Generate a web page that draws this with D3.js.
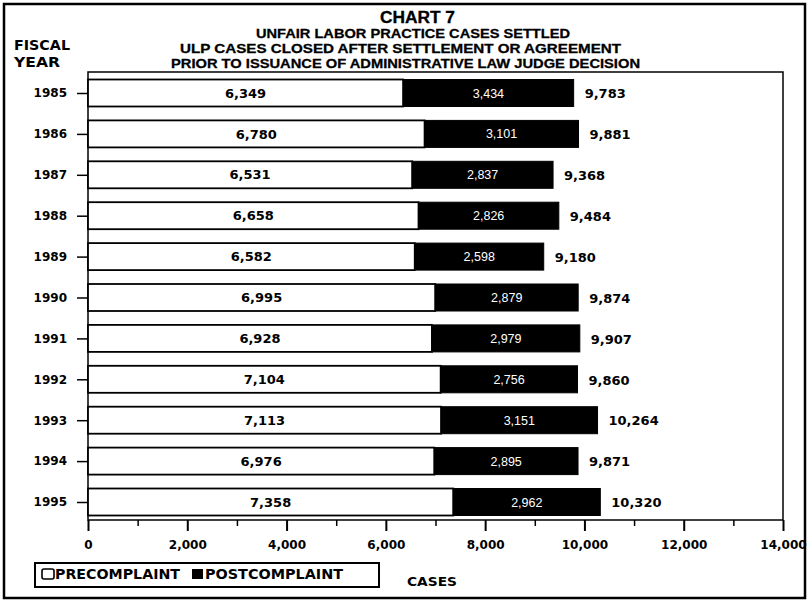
<!DOCTYPE html>
<html>
<head>
<meta charset="utf-8">
<script src="https://cdn.jsdelivr.net/npm/d3@7"></script>
<style>
  html, body { margin: 0; padding: 0; background: #fff; }
  svg { display: block; }
  .bold { font-family: "DejaVu Sans", sans-serif; font-weight: bold; fill: #000; }
  .title { font-family: "Liberation Sans", Arial, sans-serif; font-weight: bold; fill: #000; stroke: #000; stroke-width: 0.3px; }
  .postval { font-family: "Liberation Sans", Arial, sans-serif; font-size: 12.5px; fill: #fff; }
</style>
</head>
<body>
<svg id="chart" width="809" height="602"></svg>
<script>
// Fiscal years and case counts (ULP cases settled before an ALJ decision)
const years = ["1985", "1986", "1987", "1988", "1989", "1990", "1991", "1992", "1993", "1994", "1995"];
const precomplaint = [6349, 6780, 6531, 6658, 6582, 6995, 6928, 7104, 7113, 6976, 7358];
const postcomplaint = [3434, 3101, 2837, 2826, 2598, 2879, 2979, 2756, 3151, 2895, 2962];
const majorTicks = [0, 2000, 4000, 6000, 8000, 10000, 12000, 14000];
const minorTicks = [1000, 3000, 5000, 7000, 9000, 11000, 13000];
const titleLines = [
  "CHART 7",
  "UNFAIR LABOR PRACTICE CASES SETTLED",
  "ULP CASES CLOSED AFTER SETTLEMENT OR AGREEMENT",
  "PRIOR TO ISSUANCE OF ADMINISTRATIVE LAW JUDGE  DECISION"
];
const legendLabels = ["PRECOMPLAINT", "POSTCOMPLAINT"];

const rows = years.map((y, i) => ({
  year: y,
  pre: precomplaint[i],
  post: postcomplaint[i],
  total: precomplaint[i] + postcomplaint[i]
}));

const svg = d3.select("#chart");
const fmt = d3.format(",");

const plot = { left: 88, right: 783, top: 72, bottom: 520 };
const barH = 27;

const x = d3.scaleLinear().domain([0, 14000]).range([plot.left, plot.right]);
const y = d3.scalePoint().domain(years).range([93, 502]);

// outer frame
svg.append("rect")
  .attr("x", 4).attr("y", 4).attr("width", 801).attr("height", 594)
  .attr("fill", "none").attr("stroke", "#000").attr("stroke-width", 2.5);

// titles
const titleSpec = [
  { x: 380, yb: 23, w: 75, size: 16 },
  { x: 256, yb: 38, w: 314, size: 13 },
  { x: 180, yb: 53, w: 441, size: 13 },
  { x: 171, yb: 68, w: 469, size: 13 }
];
titleLines.forEach((t, i) => {
  const s = titleSpec[i];
  svg.append("text").attr("class", "title")
    .attr("x", s.x).attr("y", s.yb)
    .attr("font-size", s.size)
    .attr("textLength", s.w).attr("lengthAdjust", "spacingAndGlyphs")
    .text(t);
});

// axis caption on the left
svg.append("text").attr("class", "bold").attr("x", 14).attr("y", 50)
  .attr("font-size", 14).attr("textLength", 56).attr("lengthAdjust", "spacingAndGlyphs")
  .text("FISCAL");
svg.append("text").attr("class", "bold").attr("x", 14).attr("y", 67)
  .attr("font-size", 14).attr("textLength", 46).attr("lengthAdjust", "spacingAndGlyphs")
  .text("YEAR");

// plot frame
svg.append("rect")
  .attr("x", plot.left).attr("y", plot.top)
  .attr("width", plot.right - plot.left).attr("height", plot.bottom - plot.top)
  .attr("fill", "none").attr("stroke", "#000").attr("stroke-width", 1.5);

// bars
const g = svg.append("g");
const row = g.selectAll("g.row").data(rows).join("g").attr("class", "row");

row.append("rect")
  .attr("x", x(0))
  .attr("y", d => y(d.year) - barH / 2)
  .attr("width", d => x(d.pre) - x(0))
  .attr("height", barH)
  .attr("fill", "#fff").attr("stroke", "#000").attr("stroke-width", 1.8);

row.append("rect")
  .attr("x", d => x(d.pre))
  .attr("y", d => y(d.year) - barH / 2)
  .attr("width", d => x(d.pre + d.post) - x(d.pre))
  .attr("height", barH)
  .attr("fill", "#000").attr("stroke", "#000").attr("stroke-width", 1);

row.append("text").attr("class", "bold")
  .attr("x", d => (x(0) + x(d.pre)) / 2)
  .attr("y", d => y(d.year)).attr("dy", "0.36em")
  .attr("text-anchor", "middle").attr("font-size", 13)
  .text(d => fmt(d.pre));

row.append("text").attr("class", "postval")
  .attr("x", d => (x(d.pre) + x(d.pre + d.post)) / 2)
  .attr("y", d => y(d.year)).attr("dy", "0.36em")
  .attr("text-anchor", "middle")
  .text(d => fmt(d.post));

row.append("text").attr("class", "bold")
  .attr("x", d => x(d.total) + 11)
  .attr("y", d => y(d.year)).attr("dy", "0.4em")
  .attr("font-size", 13)
  .text(d => fmt(d.total));

// y axis (years)
const yAxis = svg.append("g")
  .attr("transform", `translate(${plot.left},0)`)
  .call(d3.axisLeft(y).tickSize(11).tickPadding(10));
yAxis.select(".domain").remove();
yAxis.selectAll("line").attr("stroke", "#000").attr("stroke-width", 1.5);
yAxis.selectAll("text").attr("class", "bold").attr("font-size", 12)
  .attr("font-family", "DejaVu Sans").attr("font-weight", "bold").attr("fill", "#000");

// x axis: major ticks with labels
const xAxis = svg.append("g")
  .attr("transform", `translate(0,${plot.bottom})`)
  .call(d3.axisBottom(x).tickValues(majorTicks).tickSize(11).tickSizeOuter(0)
    .tickPadding(9).tickFormat(fmt));
xAxis.select(".domain").remove();
xAxis.selectAll("line").attr("stroke", "#000").attr("stroke-width", 2);
xAxis.selectAll("text")
  .attr("font-family", "DejaVu Sans").attr("font-weight", "bold")
  .attr("font-size", 12).attr("fill", "#000");

// x axis: minor ticks
const xMinor = svg.append("g")
  .attr("transform", `translate(0,${plot.bottom})`)
  .call(d3.axisBottom(x).tickValues(minorTicks).tickSize(6).tickFormat(""));
xMinor.select(".domain").remove();
xMinor.selectAll("line").attr("stroke", "#000").attr("stroke-width", 1.5);

// legend
svg.append("rect")
  .attr("x", 35).attr("y", 563).attr("width", 344).attr("height", 24)
  .attr("fill", "#fff").attr("stroke", "#000").attr("stroke-width", 2);
svg.append("rect")
  .attr("x", 42).attr("y", 569).attr("width", 12).attr("height", 10).attr("rx", 2)
  .attr("fill", "#fff").attr("stroke", "#000").attr("stroke-width", 1.6);
svg.append("text").attr("class", "bold").attr("x", 55).attr("y", 579)
  .attr("font-size", 14).attr("textLength", 125).attr("lengthAdjust", "spacingAndGlyphs")
  .text(legendLabels[0]);
svg.append("rect")
  .attr("x", 192).attr("y", 569).attr("width", 11).attr("height", 10)
  .attr("fill", "#000");
svg.append("text").attr("class", "bold").attr("x", 205).attr("y", 579)
  .attr("font-size", 14).attr("textLength", 138).attr("lengthAdjust", "spacingAndGlyphs")
  .text(legendLabels[1]);

// x axis caption
svg.append("text").attr("class", "bold").attr("x", 407).attr("y", 586)
  .attr("font-size", 13).attr("textLength", 50).attr("lengthAdjust", "spacingAndGlyphs")
  .text("CASES");
</script>
</body>
</html>
